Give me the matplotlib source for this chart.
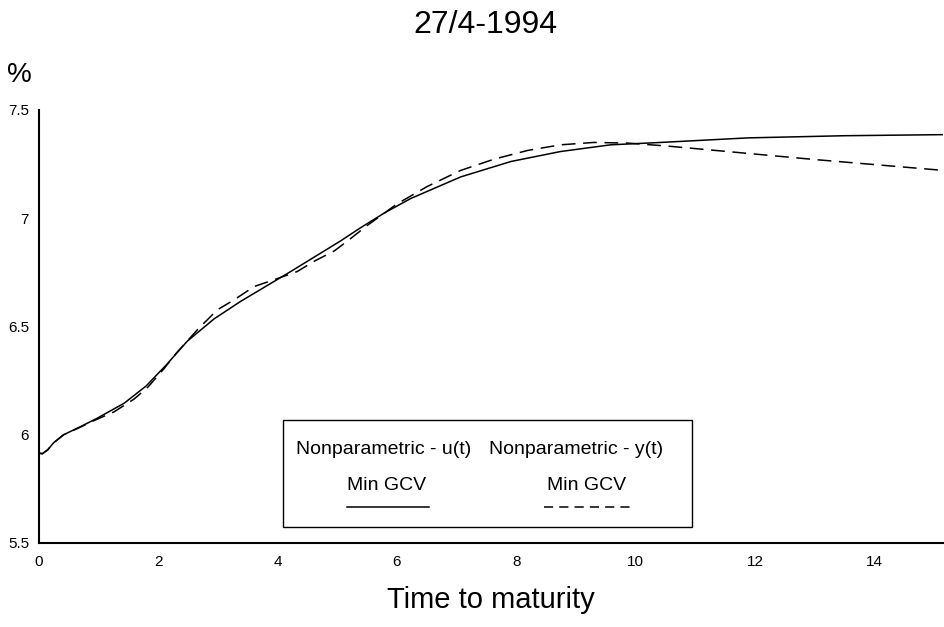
import matplotlib
matplotlib.use("Agg")
import matplotlib.pyplot as plt
from matplotlib.patches import Rectangle

plt.rcParams['font.family'] = ['Liberation Sans', 'DejaVu Sans']

# values
maturity_u = [0, 0.06, 0.15, 0.25, 0.42, 0.7, 0.98, 1.43, 1.8, 2.13, 2.49,
              2.94, 3.38, 3.94, 4.22, 5.06, 5.39, 5.8, 6.23, 7.07, 7.91, 8.74,
              9.58, 10.42, 11.88, 13.5, 15.15]
rate_u = [5.915, 5.912, 5.93, 5.963, 6.0, 6.037, 6.076, 6.145, 6.225, 6.32,
          6.432, 6.535, 6.615, 6.707, 6.753, 6.895, 6.955, 7.025, 7.09, 7.19,
          7.261, 7.307, 7.338, 7.349, 7.37, 7.38, 7.385]

maturity_y = [0, 0.06, 0.15, 0.25, 0.42, 0.7, 0.9, 1.26, 1.6, 1.83, 2.1, 2.3,
              2.66, 2.99, 3.27, 3.61, 3.94, 4.33, 4.61, 4.95, 5.2, 5.5, 6.0,
              6.51, 7.07, 7.63, 8.19, 8.74, 9.3, 9.86, 10.5, 11.3, 13.0, 15.15]
rate_y = [5.915, 5.912, 5.93, 5.963, 6.0, 6.035, 6.062, 6.105, 6.165, 6.22,
          6.305, 6.375, 6.485, 6.576, 6.622, 6.684, 6.715, 6.753, 6.80, 6.848,
          6.90, 6.965, 7.065, 7.146, 7.22, 7.272, 7.312, 7.338, 7.349, 7.346,
          7.333, 7.313, 7.27, 7.22]

xticks = [0, 2, 4, 6, 8, 10, 12, 14]
yticks = [5.5, 6, 6.5, 7, 7.5]
ytick_labels = ["5.5", "6", "6.5", "7", "7.5"]

fig = plt.figure(figsize=(9.45, 6.27), dpi=100)
ax = fig.add_axes([0.041, 0.134, 0.957, 0.691])

ax.plot(maturity_u, rate_u, color="black", lw=1.1)
ax.plot(maturity_y, rate_y, color="black", lw=1.1, dashes=(9, 5))

ax.set_xlim(0, 15.15)
ax.set_ylim(5.5, 7.5)
ax.set_xticks(xticks)
ax.set_yticks(yticks)
ax.set_yticklabels(ytick_labels)
ax.tick_params(length=0, labelsize=11)
ax.tick_params(axis="x", pad=9)
ax.tick_params(axis="y", pad=7)

for s in ["top", "right"]:
    ax.spines[s].set_visible(False)
for s in ["left", "bottom"]:
    ax.spines[s].set_linewidth(1.5)

ax.set_xlabel("Time to maturity", fontsize=21, labelpad=12)
fig.text(0.514, 0.96, "27/4-1994", fontsize=23, ha="center", va="center")
fig.text(0.021, 0.88, "%", fontsize=20, ha="center", va="center")

# hand-made legend box
ax.add_patch(Rectangle((0.270, 0.037), 0.452, 0.247, transform=ax.transAxes,
                       fill=False, lw=1.0, color="black"))
ax.text(0.381, 0.216, "Nonparametric - u(t)", transform=ax.transAxes,
        fontsize=14, ha="center", va="center")
ax.text(0.594, 0.216, "Nonparametric - y(t)", transform=ax.transAxes,
        fontsize=14, ha="center", va="center")
ax.text(0.385, 0.132, "Min GCV", transform=ax.transAxes,
        fontsize=14, ha="center", va="center")
ax.text(0.606, 0.132, "Min GCV", transform=ax.transAxes,
        fontsize=14, ha="center", va="center")
ax.plot([0.341, 0.432], [0.083, 0.083], transform=ax.transAxes,
        color="black", lw=1.1)
ax.plot([0.559, 0.655], [0.083, 0.083], transform=ax.transAxes,
        color="black", lw=1.1, dashes=(6, 4))

fig.savefig("out.png", dpi=100)
